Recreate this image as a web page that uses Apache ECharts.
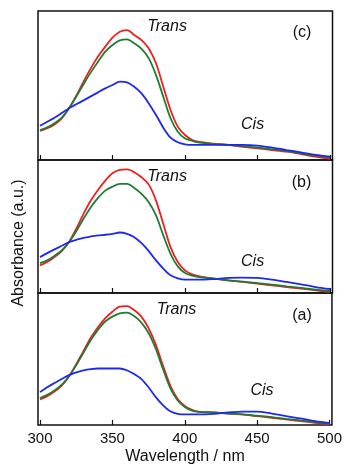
<!DOCTYPE html>
<html>
<head>
<meta charset="utf-8">
<script src="https://cdn.jsdelivr.net/npm/echarts@6.0.0/dist/echarts.min.js"></script>
<style>
  html, body { margin: 0; padding: 0; background: #fff; }
  #chart { width: 345px; height: 466px; }
</style>
</head>
<body>
<div id="chart"></div>
<script>
// wavelength grid (nm) shared by every spectrum
const wavelengths = [300, 305, 310, 315, 320, 325, 330, 335, 340, 345, 350, 355, 360, 365, 370, 375,
  380, 385, 390, 395, 400, 405, 410, 420, 430, 440, 450, 460, 470, 480, 490, 500];

// panel (c)
const redC = [0.195, 0.213, 0.239, 0.280, 0.347, 0.432, 0.526, 0.615, 0.694, 0.761, 0.821, 0.861, 0.872, 0.839, 0.805, 0.749,
  0.649, 0.492, 0.336, 0.224, 0.168, 0.134, 0.121, 0.110, 0.101, 0.089, 0.078, 0.067, 0.056, 0.040, 0.022, 0.007];
const greenC = [0.201, 0.219, 0.246, 0.284, 0.347, 0.425, 0.508, 0.588, 0.660, 0.727, 0.772, 0.803, 0.810, 0.783, 0.745, 0.682,
  0.570, 0.425, 0.280, 0.190, 0.145, 0.128, 0.116, 0.107, 0.101, 0.092, 0.083, 0.072, 0.060, 0.045, 0.029, 0.016];
const blueC = [0.230, 0.257, 0.284, 0.315, 0.347, 0.374, 0.400, 0.427, 0.454, 0.481, 0.503, 0.526, 0.521, 0.492, 0.447, 0.380,
  0.302, 0.217, 0.150, 0.119, 0.105, 0.101, 0.101, 0.101, 0.101, 0.101, 0.096, 0.083, 0.067, 0.051, 0.034, 0.022];

// panel (b)
const redB = [0.208, 0.233, 0.270, 0.315, 0.383, 0.483, 0.595, 0.695, 0.775, 0.845, 0.900, 0.925, 0.930, 0.908, 0.870, 0.815,
  0.695, 0.520, 0.345, 0.233, 0.170, 0.140, 0.125, 0.108, 0.095, 0.083, 0.070, 0.058, 0.045, 0.033, 0.020, 0.008];
const greenB = [0.225, 0.245, 0.280, 0.320, 0.383, 0.465, 0.558, 0.645, 0.715, 0.770, 0.800, 0.820, 0.820, 0.790, 0.745, 0.683,
  0.583, 0.433, 0.295, 0.200, 0.150, 0.130, 0.120, 0.108, 0.095, 0.085, 0.075, 0.063, 0.050, 0.038, 0.025, 0.015];
const blueB = [0.270, 0.300, 0.328, 0.355, 0.383, 0.400, 0.415, 0.425, 0.433, 0.438, 0.445, 0.455, 0.445, 0.420, 0.375, 0.315,
  0.245, 0.183, 0.133, 0.110, 0.100, 0.100, 0.100, 0.105, 0.113, 0.115, 0.113, 0.100, 0.083, 0.065, 0.045, 0.030];

// panel (a)
const redA = [0.194, 0.219, 0.254, 0.299, 0.368, 0.460, 0.560, 0.659, 0.741, 0.808, 0.858, 0.896, 0.900, 0.871, 0.821, 0.734,
  0.609, 0.448, 0.299, 0.199, 0.144, 0.114, 0.100, 0.095, 0.087, 0.080, 0.067, 0.055, 0.042, 0.030, 0.017, 0.005];
const greenA = [0.204, 0.229, 0.261, 0.306, 0.368, 0.453, 0.547, 0.642, 0.721, 0.784, 0.821, 0.846, 0.851, 0.826, 0.776, 0.697,
  0.577, 0.423, 0.279, 0.187, 0.137, 0.109, 0.100, 0.095, 0.087, 0.080, 0.070, 0.060, 0.047, 0.035, 0.022, 0.010];
const blueA = [0.249, 0.286, 0.318, 0.348, 0.378, 0.398, 0.413, 0.423, 0.428, 0.428, 0.428, 0.428, 0.415, 0.386, 0.348, 0.286,
  0.211, 0.149, 0.104, 0.085, 0.080, 0.080, 0.080, 0.085, 0.095, 0.102, 0.102, 0.087, 0.067, 0.050, 0.030, 0.015];

const xTicks = [300, 350, 400, 450, 500];

// annotations: [text, wavelength, absorbance, italic]
const notesC = [["Trans", 387.6, 0.897, true], ["(c)", 480.7, 0.857, false], ["Cis", 446.6, 0.239, true]];
const notesB = [["Trans", 387.6, 0.878, true], ["(b)", 480.3, 0.830, false], ["Cis", 446.6, 0.240, true]];
const notesA = [["Trans", 394.3, 0.876, true], ["(a)", 481.0, 0.826, false], ["Cis", 453.4, 0.261, true]];

const FONT = "Liberation Sans, Arial, sans-serif";
const INK = "#111";
const RED = "#f01e1e";
const GREEN = "#1e7d32";
const BLUE = "#1e28f0";

const panels = [
  { top: 11, height: 149, red: redC, green: greenC, blue: blueC, notes: notesC },
  { top: 160, height: 133, red: redB, green: greenB, blue: blueB, notes: notesB },
  { top: 293, height: 134, red: redA, green: greenA, blue: blueA, notes: notesA },
];

const zip = (ys) => wavelengths.map((w, i) => [w, ys[i]]);

const grid = panels.map((p) => ({
  left: 38,
  right: 12.5,
  top: p.top,
  height: p.height,
  show: true,
  borderColor: INK,
  borderWidth: 1.5,
  backgroundColor: "transparent",
}));

const xAxis = panels.map((p, i) => ({
  type: "value",
  gridIndex: i,
  min: 298.6,
  max: 501.7,
  axisLine: { show: false },
  splitLine: { show: false },
  axisTick: {
    show: true,
    inside: true,
    length: 5,
    customValues: xTicks,
    lineStyle: { color: INK, width: 1.2 },
  },
  axisLabel: {
    show: i === panels.length - 1,
    customValues: xTicks,
    margin: 6,
    fontSize: 15,
    fontFamily: FONT,
    color: INK,
  },
  name: i === panels.length - 1 ? "Wavelength / nm" : "",
  nameLocation: "middle",
  nameGap: 24,
  nameTextStyle: { fontSize: 16, fontFamily: FONT, color: INK },
}));

const yAxis = panels.map((p, i) => ({
  type: "value",
  gridIndex: i,
  min: 0,
  max: 1,
  show: false,
}));

const series = [];
panels.forEach((p, i) => {
  [[p.red, RED], [p.green, GREEN], [p.blue, BLUE]].forEach(([ys, color]) => {
    series.push({
      type: "line",
      xAxisIndex: i,
      yAxisIndex: i,
      data: zip(ys),
      showSymbol: false,
      smooth: 0.3,
      lineStyle: { color, width: 1.8 },
      silent: true,
    });
  });
  series.push({
    type: "scatter",
    xAxisIndex: i,
    yAxisIndex: i,
    symbolSize: 0,
    itemStyle: { color: INK, opacity: 1 },
    silent: true,
    data: p.notes.map(([text, w, a, italic]) => ({
      value: [w, a],
      name: text,
      label: { fontStyle: italic ? "italic" : "normal" },
    })),
    label: {
      show: true,
      position: "inside",
      formatter: (d) => d.name,
      fontSize: 16,
      fontFamily: FONT,
      color: INK,
      textBorderWidth: 0,
    },
  });
});

const chart = echarts.init(document.getElementById("chart"));
chart.setOption({
  animation: false,
  backgroundColor: "#fff",
  grid,
  xAxis,
  yAxis,
  series,
  graphic: [
    {
      type: "text",
      x: 19,
      y: 243,
      rotation: Math.PI / 2,
      style: {
        text: "Absorbance (a.u.)",
        align: "center",
        verticalAlign: "middle",
        fontSize: 16,
        fontFamily: FONT,
        fill: INK,
      },
    },
  ],
});
</script>
</body>
</html>
